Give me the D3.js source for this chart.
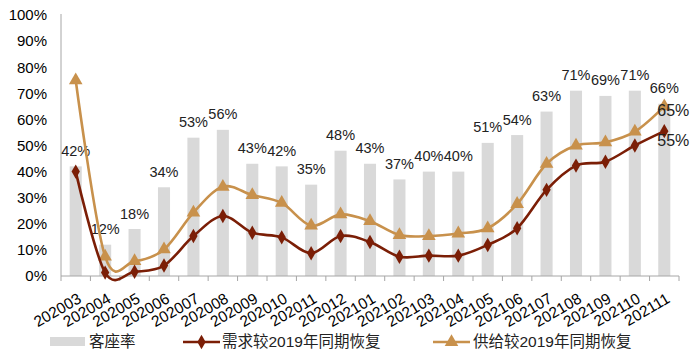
<!DOCTYPE html>
<html><head><meta charset="utf-8">
<script src="https://cdn.jsdelivr.net/npm/d3@7"></script>
<style>body{margin:0;background:#fff}svg{display:block;font-family:"Liberation Sans",Arial,"Noto Sans CJK SC",sans-serif}</style>
</head><body><svg id="c" width="700" height="364"></svg>
<script>
const categories = ['202003','202004','202005','202006','202007','202008','202009','202010','202011','202012','202101','202102','202103','202104','202105','202106','202107','202108','202109','202110','202111'];
const seatRate = [42,12,18,34,53,56,43,42,35,48,43,37,40,40,51,54,63,71,69,71,66];
const demand = [40,1.3,1.6,4,15.3,23,16.6,14.8,8.7,15.3,13,7.4,7.8,7.8,11.9,18.3,33,42.3,43.8,50,55.5];
const supply = [75,7.4,5.7,10.2,24.3,34.2,31,28,19.3,23.6,21,15.7,15.3,16.3,18.3,27.6,43,50,51.2,55.3,65];
const yTicks = [0,10,20,30,40,50,60,70,80,90,100];
const seriesNames = ['客座率','需求较2019年同期恢复','供给较2019年同期恢复'];

const cBar = '#d9d9d9', cDem = '#7b1e06', cSup = '#c8914c';
const svg = d3.select('#c');
const x = d3.scaleBand().domain(categories).range([61,679]).paddingInner(0.59).paddingOuter(0.295);
const y = d3.scaleLinear().domain([0,100]).range([276,15]);
const cx = d => x(d) + x.bandwidth()/2;

// bars
svg.append('g').selectAll('rect').data(categories).join('rect')
  .attr('x', d => x(d)).attr('width', x.bandwidth())
  .attr('y', (d,i) => y(seatRate[i])).attr('height', (d,i) => y(0) - y(seatRate[i]))
  .attr('fill', cBar);

// y axis
const ya = svg.append('g').attr('transform','translate(61,0)')
  .call(d3.axisLeft(y).tickValues(yTicks).tickSize(0).tickPadding(14).tickFormat(d => d + '%'));
ya.select('.domain').attr('stroke','#a6a6a6').attr('d','M0,14V276');
ya.selectAll('text').attr('font-size',15).attr('fill','#000').attr('font-family','"Liberation Sans",Arial,sans-serif');

// x axis
const xa = svg.append('g').attr('transform','translate(0,276)');
xa.append('line').attr('x1',61).attr('x2',679).attr('stroke','#a6a6a6');
const bounds = d3.range(categories.length + 1).map(i => 61 + i * x.step());
xa.selectAll('line.t').data(bounds).join('line').attr('class','t')
  .attr('x1', d => d).attr('x2', d => d).attr('y1',0).attr('y2',5).attr('stroke','#a6a6a6');
xa.selectAll('text').data(categories).join('text')
  .attr('transform', d => `translate(${cx(d)+4},${21}) rotate(-30)`)
  .attr('text-anchor','end').attr('dy','0.35em').attr('font-size',15.5).attr('fill','#000')
  .text(d => d);

// bar labels
svg.append('g').selectAll('text').data(categories).join('text')
  .attr('x', d => cx(d)).attr('y', (d,i) => y(seatRate[i]) - 10.5)
  .attr('text-anchor','middle').attr('font-size',14.5).attr('fill','#222')
  .text((d,i) => seatRate[i] + '%');

// lines
const line = d3.line().x(d => cx(d[0])).y(d => y(d[1])).curve(d3.curveCatmullRom.alpha(0));
function drawSeries(vals, color, shape, size) {
  const pts = categories.map((c,i) => [c, vals[i]]);
  svg.append('path').attr('d', line(pts)).attr('fill','none').attr('stroke',color).attr('stroke-width',2.6);
  svg.append('g').selectAll('path').data(pts).join('path')
    .attr('transform', d => `translate(${cx(d[0])},${y(d[1])})`)
    .attr('d', d3.symbol().type(shape).size(size)).attr('fill', color);
}
drawSeries(supply, cSup, d3.symbolTriangle, 80);
drawSeries(demand, cDem, d3.symbolDiamond, 60);

// end labels
const last = categories[categories.length-1];
svg.append('text').attr('x', cx(last) - 7).attr('y', y(supply[supply.length-1]) + 10)
  .attr('font-size',16).attr('fill','#222').text(supply[supply.length-1] + '%');
svg.append('text').attr('x', cx(last) - 7).attr('y', y(55) + 14)
  .attr('font-size',16).attr('fill','#222').text('55%');

// legend
const lg = svg.append('g');
lg.append('rect').attr('x',50).attr('y',337).attr('width',35).attr('height',9).attr('fill',cBar);
lg.append('text').attr('x',89).attr('y',342).attr('dy','0.35em').attr('font-size',15.5).attr('fill','#222').text(seriesNames[0]);
lg.append('line').attr('x1',183).attr('x2',220).attr('y1',342).attr('y2',342).attr('stroke',cDem).attr('stroke-width',2.6);
lg.append('path').attr('transform','translate(201.5,342)').attr('d',d3.symbol().type(d3.symbolDiamond).size(60)).attr('fill',cDem);
lg.append('text').attr('x',222).attr('y',342).attr('dy','0.35em').attr('font-size',15.5).attr('fill','#222').text(seriesNames[1]);
lg.append('line').attr('x1',433).attr('x2',470).attr('y1',342).attr('y2',342).attr('stroke',cSup).attr('stroke-width',2.6);
lg.append('path').attr('transform','translate(451.5,342)').attr('d',d3.symbol().type(d3.symbolTriangle).size(80)).attr('fill',cSup);
lg.append('text').attr('x',473).attr('y',342).attr('dy','0.35em').attr('font-size',15.5).attr('fill','#222').text(seriesNames[2]);
</script></body></html>
